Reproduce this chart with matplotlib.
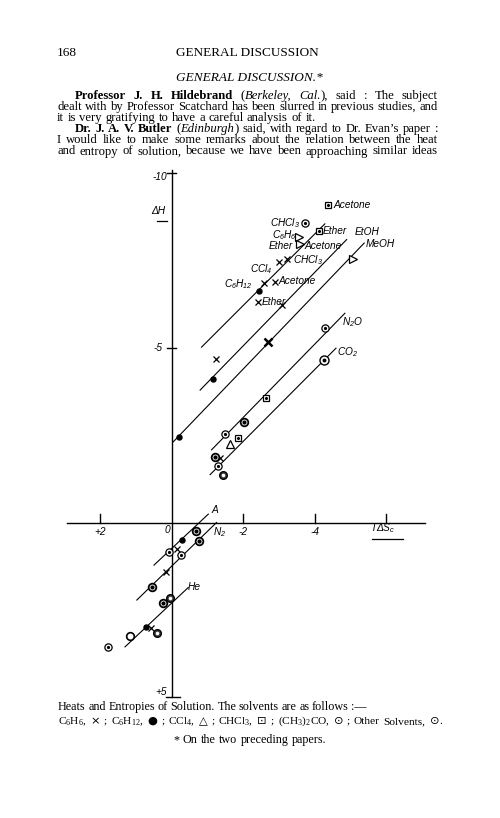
import matplotlib
matplotlib.use('Agg')
import matplotlib.pyplot as plt

plt.rcParams['mathtext.fontset'] = 'custom'
plt.rcParams['mathtext.rm'] = 'Liberation Serif'
plt.rcParams['mathtext.it'] = 'Liberation Serif:italic'
plt.rcParams['mathtext.bf'] = 'Liberation Serif:bold'
plt.rcParams['mathtext.sf'] = 'Liberation Sans:italic'

SERIF = ['Liberation Serif', 'DejaVu Serif']
SYM = ['DejaVu Sans']
HAND = ['Liberation Sans Narrow', 'Liberation Sans', 'DejaVu Sans']

# ---------------- data (T dS_c on x, dH on y, kcal) ----------------
line_names = ['Ether', 'EtOH', 'MeOH', 'N2O', 'CO2', 'A', 'N2', 'He']
line_x0 = [-0.84, -0.80, -0.05, -1.12, -1.08, 0.49, 0.97, 1.30]
line_y0 = [-5.02, -3.79, -2.31, -2.08, -1.37, 1.22, 2.22, 3.56]
line_x1 = [-4.29, -4.90, -5.39, -4.85, -4.60, -1.03, -1.26, -0.47]
line_y1 = [-8.55, -8.10, -8.00, -5.99, -4.99, -0.24, 0.00, 1.86]

c6h6_x = [-3.02, -3.22, -2.60, -2.90, -2.43, -3.08, -1.25, -1.36, -0.15, 0.15, 0.58]
c6h6_y = [-7.47, -7.54, -6.85, -6.89, -6.30, -6.23, -4.67, -1.85, 0.76, 1.41, 3.03]
c6h6_bold_x = [-2.71]
c6h6_bold_y = [-5.18]
c6h12_x = [-2.45, -1.15, -0.22, -0.29, 0.72]
c6h12_y = [-6.63, -4.11, -2.46, 0.50, 3.00]
ccl4_x = [-3.58, -3.59, -5.09]
ccl4_y = [-8.17, -7.97, -7.54]
ccl4_up_x = [-1.65]
ccl4_up_y = [-2.25]
chcl3_x = [-4.39, -4.13, -2.64, -1.85]
chcl3_y = [-9.09, -8.35, -3.56, -2.41]
dotc_x = [-3.74, -4.29, -1.50, -1.31, 0.06, -0.26, 1.77]
dotc_y = [-8.58, -5.56, -2.53, -1.63, 0.85, 0.93, 3.56]
bigc_x = [-4.27]
bigc_y = [-4.65]
openc_x = [1.16]
openc_y = [3.25]
boldc_x = [-2.03, -1.22, -0.69, -0.78, 0.55, 0.25]
boldc_y = [-2.89, -1.88, 0.24, 0.53, 1.86, 2.31]
darkc_x = [-1.45, 0.04, 0.40]
darkc_y = [-1.35, 2.17, 3.17]

label_texts = ['Acetone', 'CHCl$_\\mathsf{3}$', 'Ether', 'EtOH', 'C$_\\mathsf{6}$H$_\\mathsf{6}$',
               'Ether', 'Acetone', 'MeOH', 'CHCl$_\\mathsf{3}$', 'CCl$_\\mathsf{4}$',
               'C$_\\mathsf{6}$H$_\\mathsf{12}$', 'Acetone', 'Ether', 'N$_\\mathsf{2}$O',
               'CO$_\\mathsf{2}$', 'A', 'N$_\\mathsf{2}$', 'He']
label_x = [-4.52, -3.59, -4.24, -5.13, -3.51, -3.40, -3.73, -5.44, -3.40, -2.82,
           -2.28, -2.98, -2.53, -4.77, -4.63, -1.13, -1.16, -0.46]
label_y = [-9.09, -8.57, -8.35, -8.32, -8.22, -7.93, -7.92, -7.97, -7.50, -7.26,
           -6.83, -6.91, -6.30, -5.73, -4.87, -0.36, 0.27, 1.86]
label_ha = ['left', 'right', 'left', 'left', 'right', 'right', 'left', 'left', 'left', 'right',
            'right', 'left', 'left', 'left', 'left', 'left', 'left', 'left']

xtick_vals = [2, -2, -4, -6]
xtick_labels = ['+2', '-2', '-4']
ytick_vals = [-10, -5, 5]
ytick_labels = ['-10', '-5', '+5']

# ---------------- figure ----------------
W, H = 500, 818
fig = plt.figure(figsize=(5, 8.18), dpi=100)
ax = fig.add_axes([0, 0, 1, 1])
X0PX, XS = 171.5, 35.75
Y0PX, YS = 522.5, 34.93
ax.set_xlim(X0PX / XS, (X0PX - W) / XS)
ax.set_ylim((H - Y0PX) / YS, -Y0PX / YS)
ax.axis('off')

# axes lines
ax.plot([2.92, -7.09], [0, 0], color='black', lw=1.0)
ax.plot([0, 0], [-10.09, 5.01], color='black', lw=1.0)
for v in xtick_vals:
    ax.plot([v, v], [0, -0.23], color='black', lw=1.0)
for v in ytick_vals[:2]:
    ax.plot([0.13, -0.13], [v, v], color='black', lw=1.0)
ax.plot([0.15, -0.24], [5.0, 5.0], color='black', lw=1.0)

# fitted lines
for a, b, c, d in zip(line_x0, line_y0, line_x1, line_y1):
    ax.plot([a, c], [b, d], color='black', lw=0.8)

k = dict(color='black', linestyle='none')
ax.plot(c6h6_x, c6h6_y, marker='x', ms=4.2, mew=0.9, **k)
ax.plot(c6h6_bold_x, c6h6_bold_y, marker='x', ms=6, mew=1.8, **k)
ax.plot(c6h12_x, c6h12_y, marker='o', ms=3.6, **k)
ax.plot(ccl4_x, ccl4_y, marker='>', ms=5.5, mfc='white', mew=0.9, **k)
ax.plot(ccl4_up_x, ccl4_up_y, marker='^', ms=5.5, mfc='white', mew=0.9, **k)
ax.plot(chcl3_x, chcl3_y, marker='s', ms=5, mfc='white', mew=0.9, **k)
ax.plot(chcl3_x, chcl3_y, marker='o', ms=1.2, **k)
ax.plot(dotc_x, dotc_y, marker='o', ms=5.2, mfc='white', mew=0.9, **k)
ax.plot(dotc_x, dotc_y, marker='o', ms=1.3, **k)
ax.plot(bigc_x, bigc_y, marker='o', ms=6.5, mfc='white', mew=1.0, **k)
ax.plot(bigc_x, bigc_y, marker='o', ms=1.8, **k)
ax.plot(openc_x, openc_y, marker='o', ms=5.5, mfc='white', mew=1.2, **k)
ax.plot(boldc_x, boldc_y, marker='o', ms=5.5, mfc='white', mew=1.3, **k)
ax.plot(boldc_x, boldc_y, marker='o', ms=2.0, **k)
ax.plot(darkc_x, darkc_y, marker='o', ms=5.5, mfc='0.25', mew=1.0, **k)
ax.plot(darkc_x, darkc_y, marker='o', ms=1.5, color='white', linestyle='none')

hand = dict(family=HAND, style='italic', fontsize=7.3, color='black')
for t, x, y, ha in zip(label_texts, label_x, label_y, label_ha):
    ax.text(x, y, t, ha=ha, va='center', **hand)

for v, t in zip(xtick_vals[:3], xtick_labels):
    ax.text(v, 0.27, t, ha='center', va='center', **hand)
ax.text(0.11, 0.21, '0', ha='center', va='center', **hand)
for v, t in zip(ytick_vals, ytick_labels):
    ax.text(0.12 if v != -5 else 0.25, v + (0.11 if v == -10 else (-0.15 if v == 5 else 0)), t,
            ha='right', va='center', **hand)
ax.text(0.38, -8.92, 'ΔH', ha='center', va='center', **hand)
ax.plot([0.41, 0.13], [-8.64, -8.64], color='black', lw=0.9)
ax.text(-5.55, 0.16, 'TΔS$_\\mathsf{c}$', ha='left', va='center', **hand)
ax.plot([-5.61, -6.48], [0.47, 0.47], color='black', lw=0.9)

# ---------------- page text ----------------
renderer = fig.canvas.get_renderer()


def fx(px):
    return px / W


def fy(py):
    return 1 - py / H


def tokenize(parts):
    toks, space = [], False
    for text, st in parts:
        for i, p in enumerate(text.split(' ')):
            if i > 0:
                space = True
            if p == '':
                continue
            toks.append((p, st, space))
            space = False
    return toks


def flow(parts, x0, yb, fs, x1=None, center=False):
    toks = tokenize(parts)
    arts, widths = [], []
    for p, st, sp in toks:
        kw = dict(fontsize=fs, family=SERIF, va='baseline', ha='left')
        if st == 'b':
            kw['fontweight'] = 'bold'
        if st == 'i':
            kw['fontstyle'] = 'italic'
        if st == 's':
            kw['family'] = SYM
        t = fig.text(0, fy(yb), p, **kw)
        arts.append(t)
        widths.append(t.get_window_extent(renderer).width)
    sw = fs * 100 / 72 * 0.27
    nsp = sum(1 for tk in toks if tk[2])
    total = sum(widths) + nsp * sw
    if x1 is not None and nsp > 0:
        sw = max((x1 - x0 - sum(widths)) / nsp, fs * 100 / 72 * 0.12)
    x = x0 - total / 2 if center else x0
    for (p, st, sp), t, w in zip(toks, arts, widths):
        if sp:
            x += sw
        t.set_x(fx(x))
        x += w


fig.text(fx(57), fy(56.5), '168', family=SERIF, fontsize=9.5, va='baseline')
fig.text(fx(247.5), fy(56.5), 'GENERAL DISCUSSION', family=SERIF, fontsize=9.5,
         va='baseline', ha='center')
fig.text(fx(249), fy(81), 'GENERAL DISCUSSION.*', family=SERIF, fontsize=9.5,
         style='italic', va='baseline', ha='center')

FS = 9.1
flow([('Professor J. H. Hildebrand', 'b'), (' (', 'n'), ('Berkeley, Cal.', 'i'),
      ('), said :  The subject', 'n')], 75, 99, FS, 438)
flow([('dealt with by Professor Scatchard has been slurred in previous studies, and', 'n')],
     57, 110, FS, 438)
flow([('it is very gratifying to have a careful analysis of it.', 'n')], 57, 121, FS)
flow([('Dr. J. A. V. Butler', 'b'), (' (', 'n'), ('Edinburgh', 'i'),
      (') said, with regard to Dr. Evan’s paper :', 'n')], 75, 132, FS, 438)
flow([('I would like to make some remarks about the relation between the heat', 'n')],
     57, 143, FS, 438)
flow([('and entropy of solution, because we have been approaching similar ideas', 'n')],
     57, 154.5, FS, 438)

CF = 8.7
flow([('Heats and Entropies of Solution.   The solvents are as follows :—', 'n')],
     58, 710, CF, 367)
flow([('C$_6$H$_6$, ', 'n'), ('×', 's'), (' ;  C$_6$H$_{12}$, ', 'n'), ('●', 's'),
      (' ;  CCl$_4$, ', 'n'), ('△', 's'), (' ;  CHCl$_3$, ', 'n'), ('⊡', 's'),
      (' ;  (CH$_3$)$_2$CO, ', 'n'), ('⊙', 's'), (' ;  Other Solvents, ', 'n'),
      ('⊙', 's'), ('.', 'n')], 58, 724, 8.2, 442)
flow([('* On the two preceding papers.', 'n')], 250, 743, CF, center=True)

fig.savefig('out.png', dpi=100, facecolor='white')
